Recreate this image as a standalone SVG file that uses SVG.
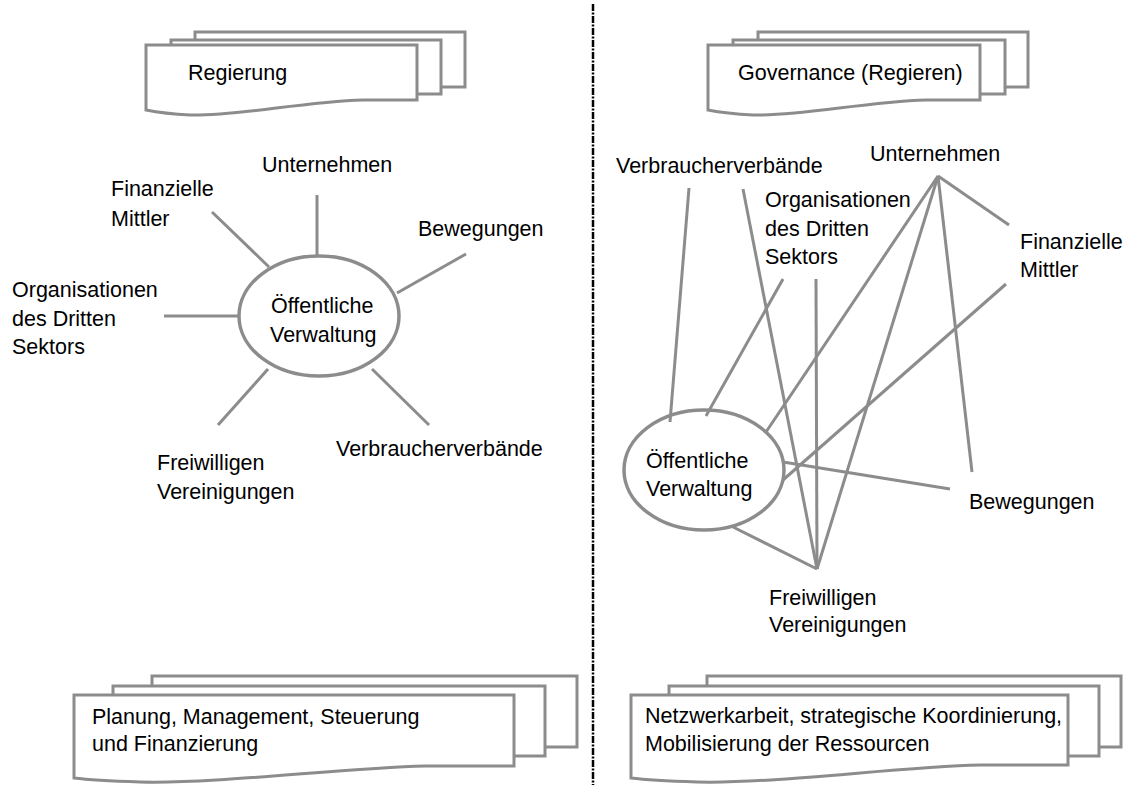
<svg xmlns="http://www.w3.org/2000/svg" width="1125" height="785" viewBox="0 0 1125 785">
<style>
.t{font-family:"Liberation Sans",Arial,sans-serif;font-size:21.5px;fill:#000}
.b{fill:#fff;stroke:#8c8c8c;stroke-width:3}
.c{stroke:#8c8c8c;stroke-width:3;fill:none}
.e{fill:#fff;stroke:#8c8c8c;stroke-width:3.5}
.en{fill:none;stroke:#8c8c8c;stroke-width:3.5}
</style>
<rect width="1125" height="785" fill="#fff"/>
<line x1="593" y1="4" x2="593" y2="785" stroke="#000" stroke-width="2.5" stroke-dasharray="7,1.5,2,1.5"/>

<g id="box-regierung">
<rect class="b" x="195" y="32" width="270" height="55"/>
<rect class="b" x="171" y="40" width="270" height="54"/>
<path class="b" d="M146,45 H417 V100 H363 C300,102 240,116 190,115 C170,114 156,112 146,110 Z"/>
<text class="t" x="188" y="80">Regierung</text>
</g>
<g id="box-governance">
<rect class="b" x="758" y="32" width="270" height="55"/>
<rect class="b" x="733" y="40" width="272" height="54"/>
<path class="b" d="M708,45 H980 V100 H926 C863,102 803,116 753,115 C733,114 718,112 708,110 Z"/>
<text class="t" x="738" y="80">Governance (Regieren)</text>
</g>
<g id="box-planung">
<rect class="b" x="152" y="676" width="425" height="71"/>
<rect class="b" x="113" y="686" width="432" height="70"/>
<path class="b" d="M74,695 H514 V766 H425 C340,768 220,784 140,782 C110,781 90,780 74,778 Z"/>
<text class="t" x="92" y="724">Planung, Management, Steuerung</text>
<text class="t" x="92" y="751">und Finanzierung</text>
</g>
<g id="box-netzwerk">
<rect class="b" x="707" y="676" width="414" height="71"/>
<rect class="b" x="669" y="686" width="430" height="70"/>
<path class="b" d="M631,695 H1068 V765 H980 C895,767 775,784 697,782 C667,781 647,780 631,778 Z"/>
<text class="t" x="645" y="723">Netzwerkarbeit, strategische Koordinierung,</text>
<text class="t" x="645" y="751">Mobilisierung der Ressourcen</text>
</g>

<g id="connectors">
<line class="c" x1="317" y1="195" x2="317" y2="255"/>
<line class="c" x1="212" y1="212" x2="269" y2="267"/>
<line class="c" x1="466" y1="254" x2="397" y2="293"/>
<line class="c" x1="164" y1="316" x2="239" y2="316"/>
<line class="c" x1="268" y1="369" x2="218" y2="425"/>
<line class="c" x1="372" y1="369" x2="429" y2="425"/>

<line class="c" x1="689" y1="188" x2="670" y2="422"/>
<line class="c" x1="743" y1="189" x2="817" y2="569"/>
<line class="c" x1="783" y1="279" x2="706" y2="416"/>
<line class="c" x1="816" y1="279" x2="817" y2="569"/>
<line class="c" x1="938" y1="176" x2="1009" y2="225"/>
<line class="c" x1="938" y1="176" x2="766" y2="432"/>
<line class="c" x1="938" y1="176" x2="817" y2="569"/>
<line class="c" x1="938" y1="176" x2="972" y2="472"/>
<line class="c" x1="1006" y1="284" x2="783" y2="480"/>
<line class="c" x1="783" y1="462" x2="950" y2="489"/>
<line class="c" x1="733" y1="527" x2="817" y2="569"/>
</g>

<g id="node-oeffentliche-left">
<ellipse class="e" cx="319" cy="316" rx="80" ry="60"/>
<text class="t" x="271" y="313">Öffentliche</text>
<text class="t" x="270" y="342">Verwaltung</text>
</g>
<g id="node-oeffentliche-right">
<ellipse class="en" cx="704" cy="470" rx="80" ry="60"/>
<text class="t" x="646" y="468">Öffentliche</text>
<text class="t" x="646" y="496">Verwaltung</text>
</g>

<g id="labels-left">
<text class="t" x="262" y="172">Unternehmen</text>
<text class="t" x="111" y="196">Finanzielle</text>
<text class="t" x="111" y="226">Mittler</text>
<text class="t" x="418" y="236">Bewegungen</text>
<text class="t" x="12" y="297">Organisationen</text>
<text class="t" x="12" y="326">des Dritten</text>
<text class="t" x="12" y="354">Sektors</text>
<text class="t" x="336" y="456">Verbraucherverbände</text>
<text class="t" x="157" y="470">Freiwilligen</text>
<text class="t" x="157" y="499">Vereinigungen</text>
</g>
<g id="labels-right">
<text class="t" x="616" y="173">Verbraucherverbände</text>
<text class="t" x="870" y="161">Unternehmen</text>
<text class="t" x="765" y="207">Organisationen</text>
<text class="t" x="765" y="236">des Dritten</text>
<text class="t" x="765" y="264">Sektors</text>
<text class="t" x="1020" y="249">Finanzielle</text>
<text class="t" x="1020" y="277">Mittler</text>
<text class="t" x="969" y="509">Bewegungen</text>
<text class="t" x="769" y="605">Freiwilligen</text>
<text class="t" x="769" y="632">Vereinigungen</text>
</g>
</svg>
